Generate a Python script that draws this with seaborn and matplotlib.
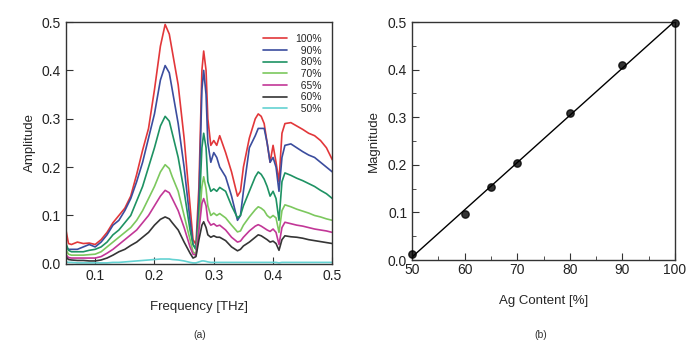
import numpy as np
import pandas as pd
import matplotlib
matplotlib.use("Agg")
import matplotlib.pyplot as plt
import seaborn as sns
from matplotlib.ticker import MultipleLocator

# --- panel (a): THz amplitude spectra for each Ag content ---
freq = [0.05, 0.055, 0.06, 0.07, 0.08, 0.09, 0.10, 0.11, 0.12, 0.13,
        0.14, 0.15, 0.16, 0.17, 0.18, 0.19, 0.20, 0.21, 0.218, 0.225,
        0.23, 0.24, 0.25, 0.26, 0.265, 0.27, 0.275, 0.28, 0.283, 0.287,
        0.29, 0.295, 0.30, 0.305, 0.31, 0.32, 0.33, 0.34, 0.345, 0.35,
        0.36, 0.37, 0.375, 0.38, 0.385, 0.39, 0.395, 0.40, 0.405, 0.41,
        0.415, 0.42, 0.43, 0.44, 0.45, 0.46, 0.47, 0.48, 0.49, 0.50]

amp_100 = [0.075, 0.042, 0.04, 0.045, 0.042, 0.043, 0.04, 0.05, 0.065, 0.085,
           0.10, 0.115, 0.14, 0.185, 0.235, 0.28, 0.36, 0.45, 0.495, 0.475,
           0.44, 0.37, 0.26, 0.12, 0.05, 0.04, 0.16, 0.40, 0.44, 0.40,
           0.30, 0.245, 0.255, 0.245, 0.265, 0.23, 0.19, 0.14, 0.15, 0.20,
           0.26, 0.30, 0.31, 0.305, 0.29, 0.25, 0.21, 0.245, 0.21, 0.17,
           0.27, 0.29, 0.292, 0.285, 0.278, 0.27, 0.265, 0.255, 0.24, 0.215]
amp_90 = [0.035, 0.03, 0.03, 0.03, 0.035, 0.04, 0.035, 0.045, 0.06, 0.08,
          0.09, 0.11, 0.135, 0.17, 0.21, 0.26, 0.31, 0.38, 0.41, 0.395,
          0.36, 0.29, 0.20, 0.09, 0.04, 0.03, 0.13, 0.36, 0.40, 0.35,
          0.25, 0.21, 0.23, 0.22, 0.20, 0.18, 0.14, 0.09, 0.10, 0.15,
          0.24, 0.265, 0.28, 0.28, 0.28, 0.25, 0.21, 0.22, 0.20, 0.15,
          0.22, 0.245, 0.248, 0.24, 0.232, 0.225, 0.22, 0.21, 0.20, 0.19]
amp_80 = [0.045, 0.028, 0.025, 0.025, 0.025, 0.028, 0.03, 0.035, 0.045, 0.06,
          0.07, 0.085, 0.10, 0.13, 0.16, 0.20, 0.24, 0.285, 0.305, 0.295,
          0.27, 0.22, 0.15, 0.07, 0.04, 0.03, 0.10, 0.24, 0.27, 0.24,
          0.17, 0.15, 0.155, 0.15, 0.158, 0.15, 0.12, 0.095, 0.10, 0.12,
          0.15, 0.18, 0.19, 0.185, 0.175, 0.16, 0.14, 0.15, 0.135, 0.09,
          0.17, 0.188, 0.183, 0.177, 0.172, 0.166, 0.16, 0.152, 0.145, 0.135]
amp_70 = [0.03, 0.02, 0.018, 0.018, 0.018, 0.019, 0.02, 0.025, 0.035, 0.045,
          0.055, 0.065, 0.075, 0.09, 0.11, 0.135, 0.16, 0.19, 0.205, 0.197,
          0.18, 0.15, 0.10, 0.05, 0.025, 0.02, 0.08, 0.16, 0.18, 0.155,
          0.12, 0.10, 0.105, 0.10, 0.104, 0.095, 0.08, 0.066, 0.068, 0.08,
          0.097, 0.112, 0.118, 0.115, 0.11, 0.10, 0.095, 0.10, 0.095, 0.065,
          0.11, 0.122, 0.118, 0.113, 0.109, 0.105, 0.10, 0.097, 0.093, 0.09]
amp_65 = [0.02, 0.013, 0.012, 0.012, 0.012, 0.012, 0.012, 0.015, 0.022, 0.03,
          0.04, 0.05, 0.06, 0.07, 0.085, 0.10, 0.12, 0.14, 0.152, 0.147,
          0.135, 0.11, 0.075, 0.035, 0.02, 0.018, 0.07, 0.125, 0.135, 0.12,
          0.09, 0.08, 0.083, 0.078, 0.08, 0.07, 0.055, 0.045, 0.047, 0.055,
          0.068, 0.078, 0.081, 0.078, 0.074, 0.07, 0.067, 0.072, 0.065, 0.04,
          0.075, 0.086, 0.083, 0.08, 0.078, 0.075, 0.072, 0.07, 0.068, 0.065]
amp_60 = [0.015, 0.009, 0.008, 0.007, 0.007, 0.006, 0.006, 0.008, 0.012, 0.018,
          0.025, 0.03, 0.038, 0.045, 0.055, 0.065, 0.08, 0.092, 0.097, 0.093,
          0.085, 0.07, 0.045, 0.022, 0.012, 0.015, 0.05, 0.08, 0.087, 0.075,
          0.06, 0.055, 0.058, 0.055, 0.055, 0.048, 0.035, 0.027, 0.03, 0.037,
          0.045, 0.055, 0.06, 0.058, 0.054, 0.05, 0.045, 0.047, 0.042, 0.028,
          0.05, 0.058, 0.056, 0.055, 0.053, 0.05, 0.048, 0.046, 0.044, 0.042]
amp_50 = [0.004, 0.003, 0.003, 0.002, 0.002, 0.002, 0.002, 0.002, 0.002, 0.003,
          0.003, 0.004, 0.005, 0.006, 0.007, 0.008, 0.009, 0.01, 0.01, 0.01,
          0.009, 0.008, 0.006, 0.003, 0.002, 0.002, 0.004, 0.006, 0.006, 0.005,
          0.004, 0.003, 0.003, 0.003, 0.003, 0.003, 0.003, 0.003, 0.003, 0.003,
          0.003, 0.003, 0.003, 0.003, 0.003, 0.003, 0.003, 0.003, 0.003, 0.002,
          0.003, 0.003, 0.003, 0.003, 0.003, 0.003, 0.003, 0.003, 0.003, 0.003]

# figure space keeps the percent labels right-aligned like the original
series_labels = ["100%", "\u200790%", "\u200780%", "\u200770%",
                 "\u200765%", "\u200760%", "\u200750%"]
series_values = [amp_100, amp_90, amp_80, amp_70, amp_65, amp_60, amp_50]
series_colors = ["#e2373a", "#3b4d9e", "#1e9263", "#7cc85e", "#c23797", "#353535", "#63d2d2"]

# --- panel (b): peak magnitude vs Ag content ---
ag_content = [50, 60, 65, 70, 80, 90, 100]
magnitude = [0.012, 0.097, 0.153, 0.204, 0.308, 0.41, 0.497]

sns.set_style("ticks")
plt.rcParams['font.family'] = ['Liberation Sans', 'DejaVu Sans']

spectra = pd.concat(
    [pd.DataFrame({'freq': freq, 'amp': vals, 'content': lab})
     for lab, vals in zip(series_labels, series_values)],
    ignore_index=True)

fig = plt.figure(figsize=(6.86, 3.44), dpi=100)
ax_a = fig.add_axes([0.0955, 0.233, 0.389, 0.703])
ax_b = fig.add_axes([0.6006, 0.244, 0.3834, 0.692])

# Plot spectra
sns.lineplot(data=spectra, x='freq', y='amp', hue='content',
             hue_order=series_labels, palette=series_colors,
             linewidth=1.2, ax=ax_a)
ax_a.set_xlim(0.05, 0.5)
ax_a.set_ylim(0.0, 0.5)
ax_a.set_xticks([0.1, 0.2, 0.3, 0.4, 0.5])
ax_a.set_yticks([0.0, 0.1, 0.2, 0.3, 0.4, 0.5])
ax_a.set_xlabel('Frequency [THz]', fontsize=9.5, labelpad=13)
ax_a.set_ylabel('Amplitude', fontsize=9.5, labelpad=4)
leg = ax_a.legend(loc='upper right', frameon=False, fontsize=7.5,
                  handlelength=2.3, labelspacing=0.16, handletextpad=0.7,
                  borderaxespad=0.4, bbox_to_anchor=(0.99, 0.985))
for line in leg.get_lines():
    line.set_linewidth(1.2)

# Plot linear fit
sns.regplot(x=ag_content, y=magnitude, ci=None, ax=ax_b,
            scatter_kws={'s': 28, 'color': 'black', 'zorder': 3, 'clip_on': False},
            line_kws={'color': 'black', 'linewidth': 1.0})
ax_b.set_xlim(50, 100)
ax_b.set_ylim(0.0, 0.5)
ax_b.xaxis.set_major_locator(MultipleLocator(10))
ax_b.xaxis.set_minor_locator(MultipleLocator(5))
ax_b.yaxis.set_major_locator(MultipleLocator(0.1))
ax_b.yaxis.set_minor_locator(MultipleLocator(0.05))
ax_b.set_xlabel('Ag Content [%]', fontsize=9.5, labelpad=13)
ax_b.set_ylabel('Magnitude', fontsize=9.5, labelpad=6)

for ax in (ax_a, ax_b):
    for side in ['top', 'right', 'bottom', 'left']:
        ax.spines[side].set_visible(True)
        ax.spines[side].set_color('#333333')
        ax.spines[side].set_linewidth(1.0)
    ax.tick_params(which='both', direction='in', colors='#333333',
                   labelsize=10, labelcolor='#222222')
    ax.tick_params(which='major', length=5)
    ax.tick_params(which='minor', length=3)
    ax.yaxis.set_major_formatter(matplotlib.ticker.FormatStrFormatter('%.1f'))

ax_a.xaxis.set_major_formatter(matplotlib.ticker.FormatStrFormatter('%.1f'))
ax_b.xaxis.set_major_formatter(matplotlib.ticker.FormatStrFormatter('%d'))
ax_b.tick_params(axis='x', pad=2)

fig.text(0.291, 0.018, '(a)', ha='center', fontsize=7.5, color='#333333')
fig.text(0.788, 0.018, '(b)', ha='center', fontsize=7.5, color='#333333')

fig.savefig('out.png', dpi=100)
